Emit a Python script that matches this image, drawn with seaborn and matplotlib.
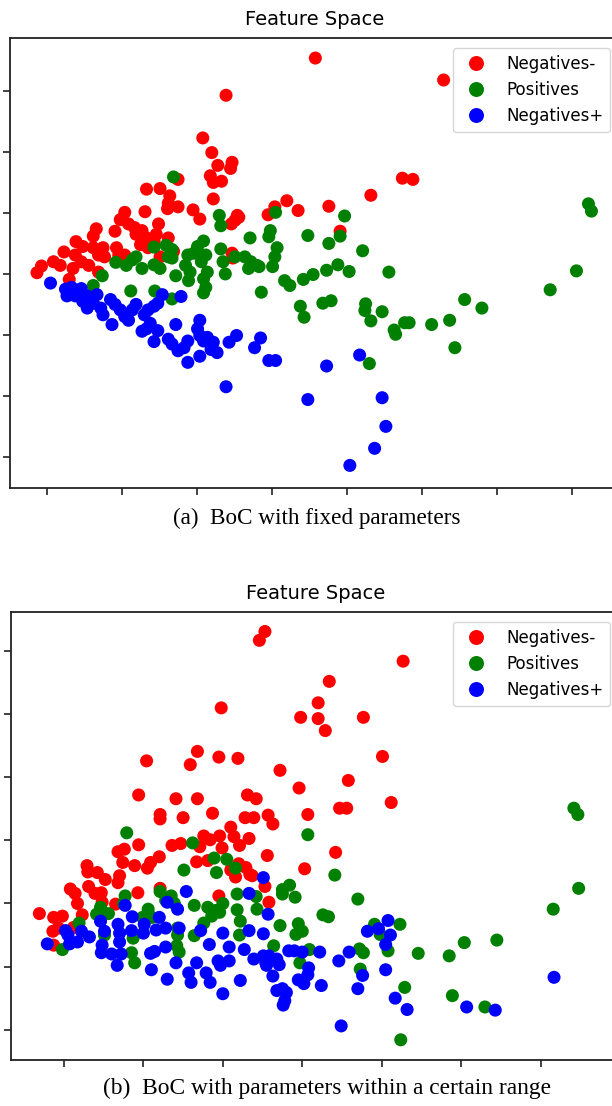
import numpy as np
import pandas as pd
import matplotlib
matplotlib.use("Agg")
import matplotlib.pyplot as plt
import seaborn as sns

# class labels, in legend / drawing order
labels = ["Negatives-", "Positives", "Negatives+"]
colors = ["red", "green", "blue"]

# ---------------------------------------------------------------
# (a) BoC with fixed parameters
# ---------------------------------------------------------------
fixed_neg_minus = [
    (3.58, 6.54), (5.29, 6.18), (2.39, 5.93), (2.08, 5.23), (2.20, 4.99),
    (2.28, 4.78), (2.47, 4.83), (2.45, 4.73), (2.18, 4.61), (2.22, 4.50),
    (2.33, 4.52), (1.75, 4.55), (1.33, 4.39), (1.51, 4.40), (1.64, 4.28),
    (1.62, 4.16), (1.75, 4.10), (1.61, 4.07), (1.31, 4.02), (2.22, 4.23),
    (4.32, 4.29), (4.74, 4.57), (4.88, 4.55), (3.76, 4.11), (3.20, 4.20),
    (3.35, 4.04), (3.04, 4.10), (2.95, 3.97), (1.95, 4.05), (2.04, 3.90),
    (2.54, 3.96), (2.51, 3.88), (2.46, 3.82), (2.56, 3.93), (1.04, 4.01),
    (0.98, 3.89), (1.09, 3.82), (1.17, 3.76), (1.27, 3.71), (1.19, 3.65),
    (1.33, 3.59), (1.25, 3.48), (1.35, 3.43), (1.49, 3.82), (1.46, 3.65),
    (1.62, 3.59), (1.43, 3.54), (0.91, 3.70), (0.66, 3.74), (0.62, 3.62),
    (0.39, 3.53), (0.48, 3.45), (0.62, 3.43), (0.75, 3.43), (0.69, 3.31),
    (0.77, 3.28), (0.23, 3.36), (0.38, 3.31), (0.46, 3.20), (0.09, 3.20),
    (0.18, 3.14), (-0.07, 3.13), (-0.13, 3.02), (0.35, 3.09), (0.56, 3.14),
    (0.93, 3.43), (0.96, 3.31), (0.69, 3.03), (0.30, 2.91), (3.91, 3.70),
    (2.47, 3.34), (2.48, 3.26), (1.51, 3.28), (1.69, 3.37), (1.04, 3.31),
]
fixed_pos = [
    (1.69, 4.59), (2.30, 3.96), (2.32, 3.79), (3.05, 4.01), (3.97, 3.95),
    (2.71, 3.59), (2.98, 3.71), (2.96, 3.61), (3.48, 3.63), (3.91, 3.62),
    (3.76, 3.50), (4.21, 3.38), (3.07, 3.43), (2.32, 3.41), (2.09, 3.54),
    (2.01, 3.45), (1.96, 3.34), (2.12, 3.31), (1.88, 3.31), (2.06, 3.20),
    (2.14, 3.03), (2.09, 2.92), (2.12, 2.78), (2.09, 2.69), (1.43, 3.44),
    (1.59, 3.47), (1.67, 3.40), (1.62, 3.28), (1.67, 3.26), (1.19, 3.28),
    (1.14, 3.23), (1.06, 3.14), (0.92, 3.19), (1.43, 3.15), (1.51, 3.09),
    (1.27, 3.09), (1.85, 3.14), (1.91, 3.03), (1.72, 2.97), (1.89, 2.89),
    (2.35, 3.20), (2.38, 3.00), (2.51, 3.28), (2.64, 3.28), (2.72, 3.20),
    (2.80, 3.14), (2.69, 3.09), (2.83, 3.12), (3.04, 3.28), (3.01, 3.12),
    (0.74, 2.97), (0.62, 2.81), (1.12, 2.72), (1.44, 2.72), (1.67, 2.59),
    (2.86, 2.70), (3.17, 2.89), (3.24, 2.81), (3.42, 2.91), (3.55, 2.99),
    (3.73, 3.06), (3.88, 3.15), (4.03, 3.04), (4.56, 3.03), (7.06, 3.05),
    (6.71, 2.74), (7.22, 4.15), (7.26, 4.03), (3.38, 2.47), (3.43, 2.29),
    (3.68, 2.52), (3.79, 2.56), (4.25, 2.51), (4.24, 2.40), (4.47, 2.38),
    (4.32, 2.23), (4.63, 2.08), (4.65, 2.01), (4.77, 2.20), (4.83, 2.20),
    (5.13, 2.17), (5.37, 2.24), (5.57, 2.58), (5.80, 2.44), (5.44, 1.79),
    (4.30, 1.53),
]
fixed_neg_plus = [
    (0.05, 2.85), (0.25, 2.75), (0.33, 2.78), (0.46, 2.76), (0.27, 2.64),
    (0.38, 2.64), (0.54, 2.64), (0.67, 2.66), (0.48, 2.55), (0.62, 2.52),
    (0.54, 2.44), (0.72, 2.44), (0.85, 2.58), (0.91, 2.50), (0.75, 2.33),
    (0.87, 2.17), (0.98, 2.41), (1.04, 2.30), (1.14, 2.41), (1.19, 2.50),
    (1.09, 2.24), (1.30, 2.33), (1.35, 2.41), (1.43, 2.47), (1.48, 2.52),
    (1.54, 2.66), (1.79, 2.63), (1.38, 2.19), (1.33, 2.10), (1.27, 2.06),
    (1.43, 1.89), (1.48, 2.07), (1.62, 1.93), (1.67, 1.85), (1.72, 2.17),
    (1.75, 1.74), (1.83, 1.79), (1.88, 1.90), (2.04, 2.24), (2.01, 2.10),
    (2.04, 1.99), (2.09, 1.90), (2.14, 1.96), (2.22, 1.88), (2.19, 1.76),
    (2.27, 1.71), (2.43, 1.88), (2.53, 1.99), (1.88, 1.55), (2.04, 1.65),
    (2.77, 1.79), (2.85, 1.95), (2.96, 1.58), (3.05, 1.58), (2.39, 1.15),
    (3.73, 1.49), (4.17, 1.67), (3.48, 0.94), (4.47, 0.97), (4.52, 0.50),
    (4.37, 0.14), (4.04, -0.14),
]

# ---------------------------------------------------------------
# (b) BoC with parameters within a certain range
# ---------------------------------------------------------------
range_neg_minus = [
    (2.53, 6.31), (2.46, 6.17), (4.27, 5.84), (3.34, 5.52), (3.20, 5.18),
    (3.20, 4.93), (2.98, 4.95), (3.29, 4.74), (3.77, 4.95), (1.98, 5.10),
    (4.01, 4.33), (1.68, 4.41), (1.59, 4.20), (1.04, 4.26), (1.95, 4.32),
    (2.19, 4.30), (2.72, 4.11), (3.58, 3.95), (2.96, 3.83), (4.12, 3.60),
    (3.47, 3.51), (3.56, 3.51), (0.94, 3.72), (1.41, 3.66), (1.68, 3.66),
    (2.31, 3.72), (2.42, 3.66), (1.87, 3.43), (1.21, 3.41), (1.21, 3.34),
    (1.50, 3.36), (2.28, 3.36), (2.39, 3.36), (2.57, 3.40), (2.63, 3.26),
    (3.07, 3.41), (2.10, 3.21), (2.14, 3.06), (1.96, 3.07), (1.76, 3.07),
    (1.84, 3.01), (1.71, 2.90), (1.99, 2.88), (2.21, 2.92), (2.33, 3.03),
    (1.36, 2.92), (1.47, 2.95), (0.94, 2.93), (0.68, 2.82), (0.76, 2.86),
    (0.74, 2.65), (0.89, 2.60), (1.05, 2.56), (1.09, 2.65), (1.20, 2.74),
    (1.67, 2.66), (1.81, 2.68), (2.10, 2.53), (2.20, 2.63), (2.29, 2.57),
    (2.34, 2.46), (2.16, 2.42), (2.37, 2.44), (2.56, 2.76), (3.42, 2.81),
    (3.03, 2.55), (0.29, 2.60), (0.30, 2.50), (0.42, 2.49), (0.52, 2.38),
    (0.68, 2.33), (0.70, 2.44), (0.65, 1.99), (0.93, 2.17), (1.21, 2.24),
    (0.08, 2.23), (0.14, 2.16), (0.17, 2.00), (0.31, 2.27), (0.39, 2.16),
    (0.47, 2.17), (0.48, 2.02), (0.23, 1.82), (-0.31, 1.84), (-0.13, 1.78),
    (-0.02, 1.80), (-0.14, 1.56), (-0.07, 1.61), (-0.13, 1.34), (0.12, 1.62),
    (1.95, 2.12), (2.53, 2.27), (2.58, 2.02),
]
range_pos = [
    (0.79, 3.12), (1.62, 2.96), (3.07, 3.09), (1.89, 2.72), (2.05, 2.70),
    (1.92, 2.49), (1.51, 2.53), (2.16, 2.56), (3.41, 2.45), (6.42, 3.51),
    (6.47, 3.41), (6.48, 2.24), (6.16, 1.91), (2.75, 2.22), (2.84, 2.29),
    (2.75, 2.15), (2.91, 2.10), (3.70, 2.07), (2.18, 2.15), (2.42, 2.11),
    (1.21, 2.19), (1.35, 2.12), (1.28, 2.05), (1.39, 2.00), (0.77, 2.12),
    (0.75, 2.00), (0.46, 1.94), (0.56, 1.84), (0.41, 1.83), (0.19, 1.69),
    (1.06, 1.91), (1.11, 1.78), (0.99, 1.78), (1.64, 1.97), (1.81, 1.94),
    (1.91, 1.89), (2.00, 2.00), (1.86, 1.80), (1.96, 1.86), (2.18, 1.90),
    (2.22, 1.72), (2.21, 1.50), (2.43, 1.91), (1.76, 1.69), (2.72, 1.65),
    (2.95, 1.68), (3.00, 1.56), (2.92, 1.51), (3.26, 1.82), (3.33, 1.79),
    (3.91, 1.67), (3.98, 1.51), (4.23, 1.67), (5.04, 1.38), (5.45, 1.42),
    (4.46, 1.21), (4.85, 1.17), (1.43, 1.61), (1.43, 1.50), (1.64, 1.49),
    (0.87, 1.45), (0.85, 1.22), (0.89, 1.06), (1.42, 1.33), (1.45, 1.23),
    (-0.02, 1.27), (2.64, 1.33), (3.09, 1.27), (2.97, 1.06), (3.72, 1.28),
    (3.77, 1.22), (4.08, 1.25), (3.73, 0.96), (4.29, 0.67), (4.89, 0.54),
    (5.30, 0.36), (4.24, -0.16), (0.51, 1.50),
]
range_neg_plus = [
    (-0.21, 1.36), (0.05, 1.50), (0.07, 1.36), (0.17, 1.39), (0.22, 1.56),
    (0.32, 1.47), (0.02, 1.57), (0.46, 1.72), (0.51, 1.56), (0.48, 1.34),
    (0.47, 1.22), (0.68, 1.67), (0.70, 1.53), (0.70, 1.39), (0.60, 1.20),
    (0.72, 1.20), (0.67, 1.02), (0.77, 1.97), (0.86, 1.79), (0.85, 1.57),
    (1.01, 1.67), (1.00, 1.53), (1.09, 1.21), (1.14, 1.24), (1.10, 0.95),
    (1.20, 1.78), (1.16, 1.58), (1.28, 1.61), (1.30, 2.02), (1.43, 1.91),
    (1.45, 1.61), (1.54, 2.19), (1.28, 1.31), (1.41, 1.06), (1.30, 0.80),
    (1.57, 0.90), (1.60, 0.75), (1.67, 1.06), (1.72, 1.57), (1.83, 1.35),
    (1.79, 0.90), (1.84, 0.75), (1.94, 1.09), (1.97, 1.02), (2.08, 1.09),
    (2.00, 1.53), (2.08, 1.31), (2.00, 0.57), (2.27, 1.27), (2.22, 0.78),
    (2.33, 1.57), (2.33, 2.16), (2.39, 1.12), (2.51, 1.17), (2.54, 1.06),
    (2.58, 1.17), (2.55, 1.02), (2.68, 1.12), (2.71, 1.03), (2.51, 1.52),
    (2.51, 2.41), (2.57, 1.83), (2.63, 0.85), (2.68, 0.62), (2.75, 0.65),
    (2.80, 0.59), (2.78, 0.46), (2.76, 0.39), (2.83, 1.25), (2.90, 1.25),
    (3.00, 1.23), (2.95, 0.79), (3.02, 0.73), (3.07, 0.87), (3.08, 0.98),
    (3.22, 1.23), (3.24, 0.70), (3.46, 1.09), (3.59, 1.23), (3.70, 0.65),
    (3.76, 0.86), (3.82, 1.56), (3.96, 1.60), (4.08, 1.73), (4.11, 1.50),
    (4.05, 1.35), (4.05, 0.95), (4.17, 0.50), (4.32, 0.32), (5.07, 0.36),
    (5.43, 0.31), (3.49, 0.06), (6.17, 0.83),
]

captions = ["(a)  BoC with fixed parameters",
            "(b)  BoC with parameters within a certain range"]


def make_frame(neg_minus, pos, neg_plus):
    """Stack the three classes into one long table (red drawn first)."""
    parts = []
    for lab, pts in zip(labels, [neg_minus, pos, neg_plus]):
        arr = np.array(pts)
        parts.append(pd.DataFrame({"x": arr[:, 0], "y": arr[:, 1], "label": lab}))
    return pd.concat(parts, ignore_index=True)


def draw_panel(ax, df, xlim, ylim, xticks, yticks):
    sns.scatterplot(data=df, x="x", y="y", hue="label", hue_order=labels,
                    palette=colors, s=88, linewidth=0, alpha=1, ax=ax)
    ax.set_xlim(*xlim)
    ax.set_ylim(*ylim)
    ax.set_xticks(xticks)
    ax.set_yticks(yticks)
    ax.set_xticklabels([])
    ax.set_yticklabels([])
    ax.set_xlabel("")
    ax.set_ylabel("")
    ax.set_title("Feature Space", fontsize=14, pad=9, color="black")
    ax.tick_params(length=5, width=1.2, color="#222222")
    for sp in ax.spines.values():
        sp.set_linewidth(1.3)
        sp.set_color("#222222")
    sns.move_legend(ax, "upper right", title=None, fontsize=12,
                    markerscale=1.15, framealpha=0.8, borderaxespad=0.6,
                    labelcolor="black")


sns.set_style("ticks")
plt.rcParams["font.family"] = ["DejaVu Sans"]
plt.rcParams["text.color"] = "black"

fig = plt.figure(figsize=(6.12, 11.06), dpi=100)

ax_a = fig.add_axes([0.0163, 0.5588, 0.9967, 0.4069])
draw_panel(ax_a, make_frame(fixed_neg_minus, fixed_pos, fixed_neg_plus),
           (-0.49, 7.64), (-0.51, 6.87), range(0, 8), range(0, 7))

ax_b = fig.add_axes([0.018, 0.0416, 0.995, 0.4051])
draw_panel(ax_b, make_frame(range_neg_minus, range_pos, range_neg_plus),
           (-0.667, 6.85), (-0.48, 6.62), range(0, 8), range(0, 7))

serif = ["Liberation Serif", "DejaVu Serif"]
fig.text(317 / 612, 1 - 518 / 1106, captions[0], ha="center", va="center",
         fontsize=16.7, family=serif, color="black")
fig.text(327 / 612, 1 - 1088 / 1106, captions[1], ha="center", va="center",
         fontsize=16.8, family=serif, color="black")

fig.savefig("out.png", dpi=100)
